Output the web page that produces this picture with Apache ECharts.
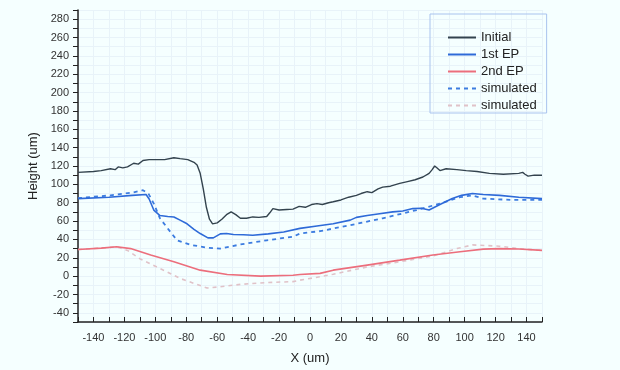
<!DOCTYPE html>
<html>
<head>
<meta charset="utf-8">
<script src="https://cdn.jsdelivr.net/npm/echarts@6/dist/echarts.min.js"></script>
<style>
html,body{margin:0;padding:0;background:#f5ffff;}
#c{width:620px;height:370px;}
</style>
</head>
<body>
<div id="c"></div>
<script>
// Data: [x (um), height (um)]
const initialPts = [[-150,113],[-140,114],[-135,115],[-129,117],[-126,116],[-124,119],[-121,118],[-118,119],[-114,123],[-111,122],[-108,126],[-104,127],[-99,127],[-94,127],[-88,129],[-84,128],[-79,127],[-75,124],[-73,121],[-71,112],[-69,95],[-67,75],[-65,62],[-63,57],[-60,58],[-57,62],[-54,67],[-51,70],[-48,67],[-45,63],[-41,63],[-37,64.5],[-33,64],[-28,65],[-26,69],[-24,73.5],[-20,72],[-15,72.6],[-11,73],[-7,76],[-3,75],[1,78],[4.5,79],[8,78],[12,80],[15,81],[20,83],[25,86],[30,88],[33,90],[37,92],[40,91],[44,95],[47,97],[52,98],[58,101],[63,103],[68,105],[73,108],[77,112],[79,116],[80.6,120],[82,118],[84,115],[88,117],[95,116],[101,115],[108,114],[116,112],[125,111],[135,112],[137.5,113],[139,111],[141,109],[145,110],[150,110]];
const firstEPPts = [[-150,84.5],[-130,86],[-115,88],[-106,89],[-104,84],[-101,72],[-97,66],[-92,65],[-88,64.5],[-84,61],[-79.5,57],[-75,51],[-71,46.4],[-66,41.7],[-62.5,41.7],[-58,46],[-54,46.5],[-49.5,45.4],[-43,45],[-37,44.6],[-27,46],[-17,48],[-6.5,52],[4.5,54.7],[15,57],[26,61],[30,64],[37,66],[45,68],[53.5,70],[60,71],[66.5,73.6],[72,74],[77,72],[84,78],[92,84.5],[98,88],[105,90],[112,89],[122.6,88],[135,86],[150,84.5]];
const secondEPPts = [[-150,29],[-135,30.5],[-125,32],[-116,30],[-103,23],[-88,15.6],[-71,6.5],[-53.5,1.8],[-32,0],[-11,1],[-6.5,1.8],[6.5,3],[15,6.5],[37,12],[58,17.4],[79.5,23],[97,26.5],[112,29.4],[122.6,30],[135,29.5],[150,28]];
const sim1Pts = [[-150,85],[-129,88],[-115,91],[-108,93.6],[-104.5,90],[-101,79],[-97,63],[-92,52],[-86,39],[-77,34],[-66.5,31],[-58,30],[-45,34.5],[-28,39],[-11,43],[-6.5,46.4],[6.5,49],[26,55.5],[47,63],[69,72],[84,79],[97,86],[105,88],[112,84.5],[130,83],[150,83]];
const sim2Pts = [[-150,29],[-135,30.5],[-125,32],[-118,28],[-110,19],[-99,10],[-84,-2.5],[-66.5,-13],[-58,-11.6],[-45,-9],[-28,-7],[-11,-6],[-6.5,-4.4],[6.5,-0.7],[15,2],[37,10],[58,15.6],[79.5,22],[95,30],[105,34],[122.6,32.6],[135,30],[150,28]];
const seriesNames = ['Initial','1st EP','2nd EP','simulated','simulated '];

const FONT = 'Liberation Sans, Arial, sans-serif';
const chart = echarts.init(document.getElementById('c'), null, {renderer:'canvas'});

function lbl(step){ return v => (Math.round(v) % step === 0 ? String(Math.round(v)) : ''); }

chart.setOption({
  backgroundColor: '#f5ffff',
  animation: false,
  grid: {left: 78, right: 78, top: 10, bottom: 48},
  legend: {
    orient: 'vertical', left: 430, top: 14,
    padding: [17, 10, 1, 17],
    itemWidth: 28, itemHeight: 14, itemGap: 4,
    borderColor: '#a9c3ee', borderWidth: 1,
    itemStyle: {opacity: 0},
    textStyle: {fontFamily: FONT, fontSize: 13, color: '#222'},
    data: seriesNames.map(n => ({name: n})),
    formatter: n => n.trim()
  },
  xAxis: {
    type: 'value', min: -150, max: 150, interval: 10,
    name: 'X (um)', nameLocation: 'middle', nameGap: 30,
    nameTextStyle: {fontFamily: FONT, fontSize: 13, color: '#222'},
    axisLine: {show: true, onZero: false, lineStyle: {color: '#222', width: 1.5}},
    axisTick: {show: true, length: 5, inside: true, lineStyle: {color: '#222'}},
    axisLabel: {fontFamily: FONT, fontSize: 11, color: '#333', margin: 10, formatter: lbl(20)},
    splitLine: {show: true, lineStyle: {color: '#e8f3f9', width: 1}}
  },
  yAxis: {
    type: 'value', min: -50, max: 290, interval: 10,
    name: 'Height (um)', nameLocation: 'middle', nameGap: 36,
    nameTextStyle: {fontFamily: FONT, fontSize: 13, color: '#222'},
    axisLine: {show: true, onZero: false, lineStyle: {color: '#222', width: 1.5}},
    axisTick: {show: true, length: 5, lineStyle: {color: '#222'}},
    axisLabel: {fontFamily: FONT, fontSize: 11, color: '#333', margin: 9, formatter: lbl(20)},
    splitLine: {show: true, lineStyle: {color: '#e8f3f9', width: 1}}
  },
  series: [
    {name: seriesNames[0], type: 'line', symbol: 'none', data: initialPts, lineStyle: {color: '#33434e', width: 1.4}, itemStyle: {color: '#33434e'}, z: 5},
    {name: seriesNames[1], type: 'line', symbol: 'none', data: firstEPPts, lineStyle: {color: '#2e6ad8', width: 1.6}, itemStyle: {color: '#2e6ad8'}, z: 4},
    {name: seriesNames[2], type: 'line', symbol: 'none', data: secondEPPts, lineStyle: {color: '#ec6e7c', width: 1.6}, itemStyle: {color: '#ec6e7c'}, z: 4},
    {name: seriesNames[3], type: 'line', symbol: 'none', data: sim1Pts, lineStyle: {color: '#3c7ce0', width: 1.8, type: [4, 4]}, itemStyle: {color: '#3c7ce0'}, z: 3},
    {name: seriesNames[4], type: 'line', symbol: 'none', data: sim2Pts, lineStyle: {color: '#e0c2c8', width: 1.6, type: [4, 4]}, itemStyle: {color: '#e0c2c8'}, z: 2}
  ]
});
</script>
</body>
</html>
